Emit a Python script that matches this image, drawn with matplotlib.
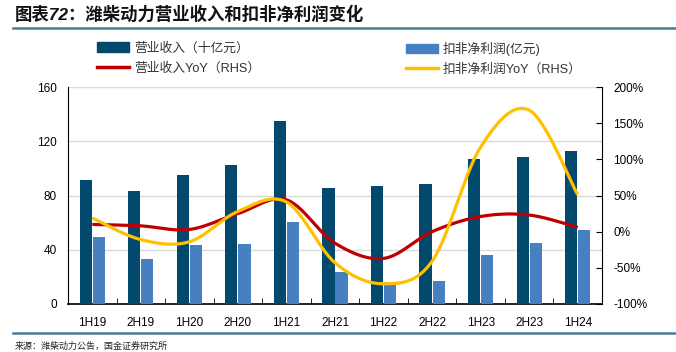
import numpy as np
import matplotlib
matplotlib.use("Agg")
import matplotlib.pyplot as plt
from matplotlib.patches import Patch
from matplotlib.lines import Line2D

plt.rcParams['font.family'] = ['Liberation Sans', 'Noto Sans CJK SC', 'DejaVu Sans']

categories = ["1H19", "2H19", "1H20", "2H20", "1H21", "2H21", "1H22", "2H22", "1H23", "2H23", "1H24"]
revenue = [91.4, 83.3, 94.9, 102.7, 135.2, 85.3, 87.0, 88.7, 106.7, 108.4, 112.8]
net_profit = [49.6, 33.4, 43.5, 44.2, 60.2, 23.8, 16.5, 16.7, 36.4, 45.0, 54.8]
revenue_yoy = [10, 8, 3, 25, 44, -16, -37, 0, 21, 23, 6]
profit_yoy = [19, -11, -14, 28, 41, -43, -72, -41, 117, 168, 51]
left_ticks = [0, 40, 80, 120, 160]
right_ticks = [-100, -50, 0, 50, 100, 150, 200]

C_DARK = "#02496d"
C_LIGHT = "#4680c0"
C_RED = "#c00000"
C_YEL = "#ffc000"


def catmull_rom(x, y, n=30):
    x = np.asarray(x, float)
    y = np.asarray(y, float)
    px = np.concatenate([[x[0]], x, [x[-1]]])
    py = np.concatenate([[y[0]], y, [y[-1]]])
    xs, ys = [], []
    t = np.linspace(0, 1, n)
    for i in range(1, len(px) - 2):
        for arr, out in ((px, xs), (py, ys)):
            p0, p1, p2, p3 = arr[i - 1], arr[i], arr[i + 1], arr[i + 2]
            seg = 0.5 * ((2 * p1) + (-p0 + p2) * t + (2 * p0 - 5 * p1 + 4 * p2 - p3) * t ** 2
                         + (-p0 + 3 * p1 - 3 * p2 + p3) * t ** 3)
            out.extend(seg if i == 1 else seg[1:])
    return np.array(xs), np.array(ys)


W, H = 676, 352
fig = plt.figure(figsize=(W / 100, H / 100), dpi=100)
ax = fig.add_axes([68 / W, (H - 304) / H, 534 / W, 217 / H])
ax2 = ax.twinx()

x = np.arange(len(categories))
bw = 0.25
ax.bar(x - 0.135, revenue, bw, color=C_DARK, zorder=3)
ax.bar(x + 0.135, net_profit, bw, color=C_LIGHT, zorder=3)
ax.set_xlim(-0.5, len(categories) - 0.5)
ax.set_ylim(0, 160)
ax.set_yticks(left_ticks)
ax.yaxis.grid(True, color="#d9d9d9", lw=1, zorder=0)
ax.set_axisbelow(True)
ax.set_xticks(x)
ax.set_xticklabels(categories, fontsize=8.5)
ax.set_xticks(np.arange(len(categories) + 1) - 0.5, minor=True)
ax.tick_params(axis='x', which='major', length=0, pad=9)
ax.tick_params(axis='x', which='minor', length=4, direction='in', color='black')
ax.tick_params(axis='y', length=0, labelsize=8.5, pad=8)
for s in ['top', 'right']:
    ax.spines[s].set_visible(False)
ax.spines['left'].set_color('black')
ax.spines['bottom'].set_color('black')
ax.spines['bottom'].set_linewidth(1.2)

xr, yr = catmull_rom(x, revenue_yoy)
xp, yp = catmull_rom(x, profit_yoy)
ax2.plot(xr, yr, color=C_RED, lw=2.3, solid_capstyle='butt', zorder=4)
ax2.plot(xp, yp, color=C_YEL, lw=2.3, solid_capstyle='butt', zorder=5)
ax2.set_ylim(-100, 200)
ax2.set_yticks(right_ticks)
ax2.set_yticklabels([f"{v}%" for v in right_ticks], fontsize=8.5)
ax2.tick_params(axis='y', direction='in', length=4, pad=8)
for s in ['top', 'left', 'bottom']:
    ax2.spines[s].set_visible(False)
ax2.spines['right'].set_color('black')

leg_kw = dict(loc='upper left', frameon=False, fontsize=9.2, handlelength=2.5,
              handleheight=0.8, handletextpad=0.4, labelspacing=0.6,
              borderpad=0, borderaxespad=0, labelcolor='#333333')
fig.legend([Patch(color=C_DARK), Line2D([], [], color=C_RED, lw=2.5)],
           ["营业收入（十亿元）", "营业收入YoY（RHS）"],
           bbox_to_anchor=(97 / W, 1 - 42 / H), **leg_kw)
fig.legend([Patch(color=C_LIGHT), Line2D([], [], color=C_YEL, lw=2.5)],
           ["扣非净利润(亿元)", "扣非净利润YoY（RHS）"],
           bbox_to_anchor=(406 / W, 1 - 42 / H), **leg_kw)

fig.text(15 / W, 1 - 14 / H, "图表72：潍柴动力营业收入和扣非净利润变化", fontsize=12.5,
         fontweight='bold', style='italic', va='center', ha='left', color='#111111')
fig.add_artist(Line2D([13 / W, 1.0], [1 - 28 / H] * 2, color="#4a7b98", lw=1.8))
fig.add_artist(Line2D([13 / W, 1.0], [1 - 333 / H] * 2, color="#4a7b98", lw=1.8))
fig.text(15 / W, 1 - 346 / H, "来源：潍柴动力公告，国金证券研究所", fontsize=6.5,
         va='center', ha='left', color='#222222')

fig.savefig("out.png", dpi=100)
